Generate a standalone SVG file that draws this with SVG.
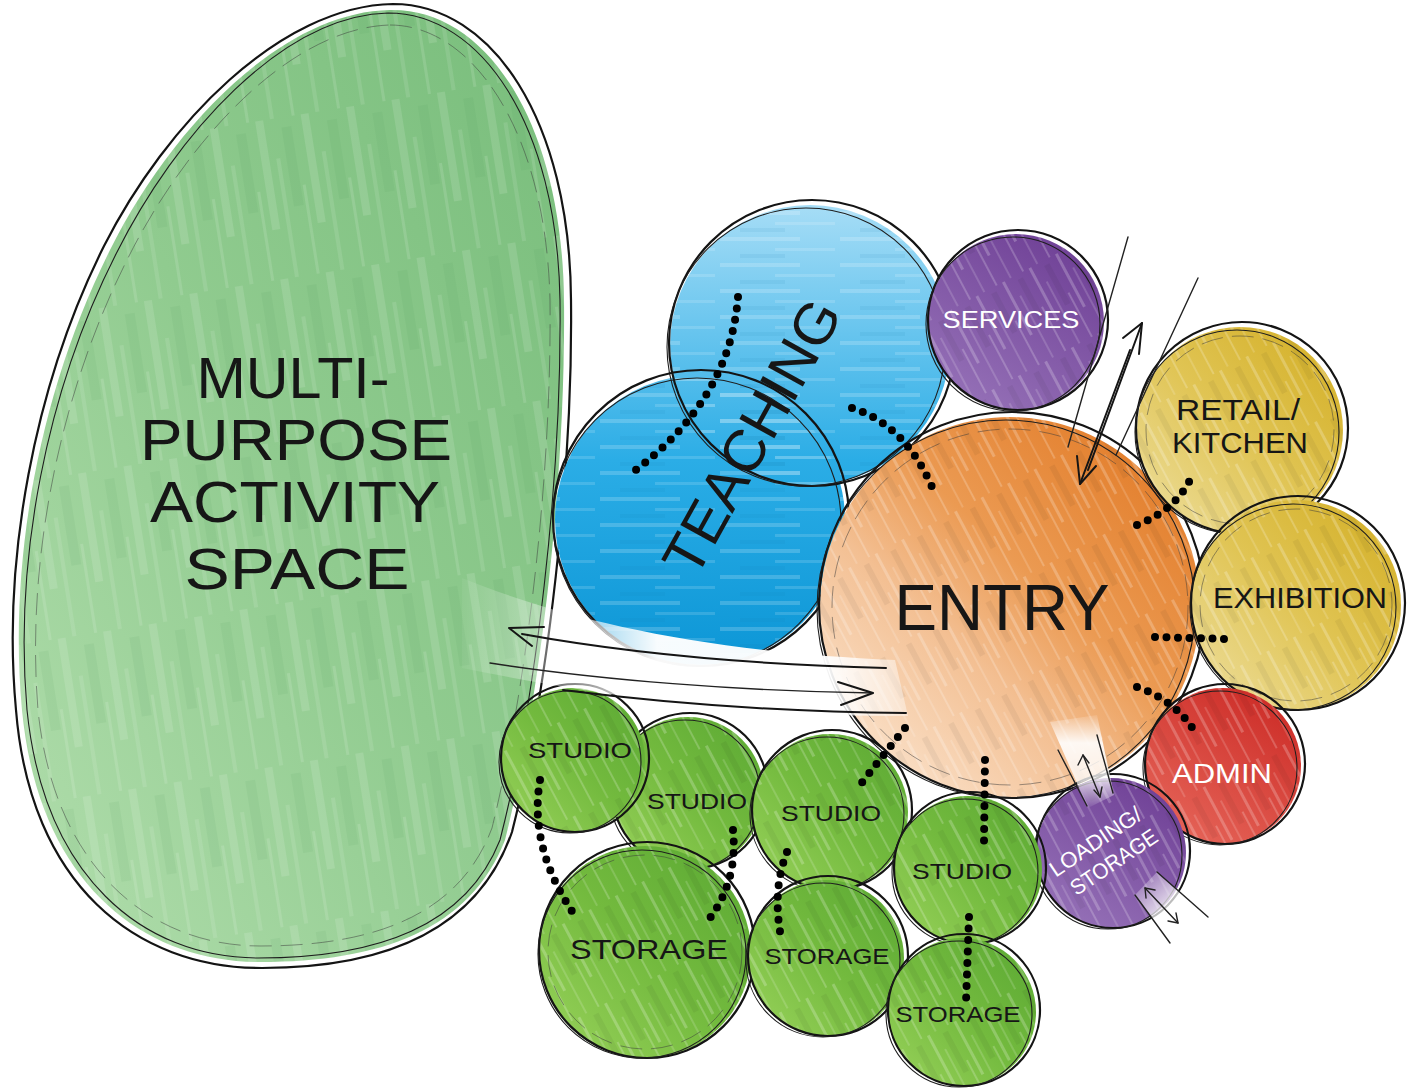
<svg xmlns="http://www.w3.org/2000/svg" width="1408" height="1091" viewBox="0 0 1408 1091">
<defs>
<style>
.o1{fill:none;stroke:#141414;stroke-width:2.2}
.o2{fill:none;stroke:#1e1e1e;stroke-width:1.1}
.o3{fill:none;stroke:#3a3a3a;stroke-width:1;stroke-dasharray:22 9;opacity:.5}
.t{font-family:"Liberation Sans",Arial,sans-serif;text-anchor:middle;fill:#161616}
.w{fill:#ffffff}
.dots{fill:none;stroke:#000;stroke-width:8;stroke-linecap:round;stroke-dasharray:0 11.5}
.ln{fill:none;stroke:#151515;stroke-width:2;stroke-linecap:round;stroke-linejoin:round}
.ln1{fill:none;stroke:#222;stroke-width:1.4;stroke-linecap:round;stroke-linejoin:round}
</style>
<linearGradient id="gBig" x1="1" y1="0" x2="0" y2="1">
<stop offset="0" stop-color="#78bd7b"/><stop offset="0.5" stop-color="#90cb8f"/><stop offset="1" stop-color="#b2dead"/>
</linearGradient>
<linearGradient id="gBlue" gradientUnits="userSpaceOnUse" x1="0" y1="205" x2="0" y2="668">
<stop offset="0" stop-color="#a6ddf6"/><stop offset="0.28" stop-color="#66c4ee"/><stop offset="0.55" stop-color="#2badE6"/><stop offset="1" stop-color="#0c96d6"/>
</linearGradient>
<linearGradient id="gOr" x1="0.85" y1="0.1" x2="0.15" y2="0.85">
<stop offset="0" stop-color="#e37f2d"/><stop offset="0.42" stop-color="#eb9a52"/><stop offset="0.68" stop-color="#f3bf92"/><stop offset="1" stop-color="#f9dcc1"/>
</linearGradient>
<linearGradient id="gPur" x1="0.8" y1="0" x2="0.2" y2="1">
<stop offset="0" stop-color="#6e3f95"/><stop offset="1" stop-color="#9672b8"/>
</linearGradient>
<linearGradient id="gYel" x1="1" y1="0" x2="0" y2="1">
<stop offset="0" stop-color="#d2ad22"/><stop offset="0.5" stop-color="#e0c453"/><stop offset="1" stop-color="#eee0a2"/>
</linearGradient>
<linearGradient id="gRed" x1="0.8" y1="0" x2="0.2" y2="1">
<stop offset="0" stop-color="#cc2b26"/><stop offset="1" stop-color="#e6665a"/>
</linearGradient>
<linearGradient id="gGrn" x1="1" y1="0" x2="0" y2="1">
<stop offset="0" stop-color="#5aa833"/><stop offset="0.5" stop-color="#73ba3e"/><stop offset="1" stop-color="#9ad35c"/>
</linearGradient>
<linearGradient id="gBand" gradientUnits="userSpaceOnUse" x1="450" y1="0" x2="910" y2="0">
<stop offset="0" stop-color="#fff" stop-opacity="0"/><stop offset="0.25" stop-color="#fff" stop-opacity="0.45"/><stop offset="0.45" stop-color="#fff" stop-opacity="0.97"/><stop offset="0.82" stop-color="#fff" stop-opacity="0.95"/><stop offset="1" stop-color="#fff" stop-opacity="0.35"/>
</linearGradient>
<linearGradient id="gLd1" x1="0" y1="0" x2="0" y2="1">
<stop offset="0" stop-color="#fff" stop-opacity="0.1"/><stop offset="0.3" stop-color="#fff" stop-opacity="0.9"/><stop offset="0.7" stop-color="#fff" stop-opacity="0.75"/><stop offset="1" stop-color="#fff" stop-opacity="0.05"/>
</linearGradient>
<linearGradient id="gLd2" x1="1" y1="1" x2="0" y2="0">
<stop offset="0" stop-color="#fff" stop-opacity="0.95"/><stop offset="0.6" stop-color="#fff" stop-opacity="0.7"/><stop offset="1" stop-color="#fff" stop-opacity="0.05"/>
</linearGradient>
<pattern id="stD" width="30" height="90" patternUnits="userSpaceOnUse" patternTransform="rotate(-28)">
<rect x="2" y="0" width="3" height="60" fill="#fff" opacity=".22"/>
<rect x="11" y="20" width="2" height="70" fill="#fff" opacity=".15"/>
<rect x="17" y="5" width="6" height="45" fill="#000" opacity=".05"/>
<rect x="25" y="40" width="2" height="50" fill="#fff" opacity=".2"/>
</pattern>
<pattern id="stV" width="46" height="160" patternUnits="userSpaceOnUse" patternTransform="rotate(-9)">
<rect x="3" y="0" width="8" height="110" fill="#fff" opacity=".12"/>
<rect x="18" y="40" width="4" height="120" fill="#fff" opacity=".1"/>
<rect x="28" y="10" width="10" height="80" fill="#3f8f45" opacity=".08"/>
<rect x="40" y="70" width="3" height="90" fill="#fff" opacity=".12"/>
</pattern>
<pattern id="stH" width="120" height="26" patternUnits="userSpaceOnUse">
<rect x="0" y="3" width="80" height="4" fill="#fff" opacity=".18"/>
<rect x="55" y="14" width="60" height="3" fill="#fff" opacity=".14"/>
<rect x="20" y="20" width="45" height="4" fill="#0a6fa8" opacity=".08"/>
</pattern>
</defs>

<rect width="1408" height="1091" fill="#ffffff"/>

<g id="multipurpose">
<path d="M390,10 C485,8 562,120 564,300 C566,480 540,700 505,840 C470,930 380,962 260,962 C140,962 38,880 22,710 C8,560 40,390 110,250 C170,130 280,12 390,10 Z" fill="url(#gBig)"/>
<path d="M390,10 C485,8 562,120 564,300 C566,480 540,700 505,840 C470,930 380,962 260,962 C140,962 38,880 22,710 C8,560 40,390 110,250 C170,130 280,12 390,10 Z" fill="url(#stV)"/>
<path class="o1" d="M393,4 C492,4 570,120 571,300 C573,470 548,690 512,832 C478,930 385,968 262,968 C135,968 30,884 16,710 C2,560 34,386 104,246 C166,124 280,6 393,4 Z"/>
<path class="o2" d="M388,13 C481,13 557,124 560,300 C562,480 536,700 500,840 C466,926 378,958 258,958 C142,958 44,876 27,710 C14,560 46,392 116,254 C176,134 282,16 388,13 Z"/>
<path class="o3" d="M390,25 C472,25 546,130 550,300 C552,480 526,690 492,828 C460,914 376,946 260,946 C150,946 54,868 38,710 C26,565 58,398 126,262 C184,144 288,28 390,25 Z"/>
<text class="t" x="293" y="398" font-size="57" textLength="193" lengthAdjust="spacingAndGlyphs">MULTI-</text>
<text class="t" x="296" y="460" font-size="57" textLength="312" lengthAdjust="spacingAndGlyphs">PURPOSE</text>
<text class="t" x="295" y="522" font-size="57" textLength="290" lengthAdjust="spacingAndGlyphs">ACTIVITY</text>
<text class="t" x="297" y="589" font-size="57" textLength="225" lengthAdjust="spacingAndGlyphs">SPACE</text>
</g>

<g id="teaching">
<circle cx="810" cy="345" r="140" fill="url(#gBlue)"/>
<circle cx="700" cy="520" r="145" fill="url(#gBlue)"/>
<circle cx="810" cy="345" r="140" fill="url(#stH)"/>
<circle cx="700" cy="520" r="145" fill="url(#stH)"/>
<circle cx="812" cy="343" r="143" class="o1"/>
<circle cx="806" cy="347" r="139" class="o2"/>
<circle cx="701" cy="518" r="148" class="o1"/>
<circle cx="697" cy="522" r="144" class="o2"/>
<text class="t" x="752" y="457" font-size="58" textLength="305" lengthAdjust="spacingAndGlyphs" transform="rotate(-61 752 437)">TEACHING</text>
</g>

<g id="entry">
<circle cx="1010" cy="607" r="190" fill="url(#gOr)"/>
<circle cx="1010" cy="607" r="190" fill="url(#stD)"/>
<circle cx="1012" cy="605" r="193" class="o1"/>
<circle cx="1006" cy="609" r="189" class="o2"/>
<circle cx="1010" cy="607" r="178" class="o3"/>
<text class="t" x="1002" y="630" font-size="64" textLength="215" lengthAdjust="spacingAndGlyphs">ENTRY</text>
</g>

<g id="services">
<circle cx="1016" cy="322" r="88" fill="url(#gPur)"/>
<circle cx="1016" cy="322" r="88" fill="url(#stD)"/>
<circle cx="1018" cy="320" r="90" class="o1"/>
<circle cx="1013" cy="324" r="87" class="o2"/>
<text class="t w" x="1011" y="328" font-size="23" textLength="137" lengthAdjust="spacingAndGlyphs">SERVICES</text>
</g>

<g id="retail">
<circle cx="1240" cy="430" r="103" fill="url(#gYel)"/>
<circle cx="1240" cy="430" r="103" fill="url(#stD)"/>
<circle cx="1242" cy="428" r="106" class="o1"/>
<circle cx="1237" cy="432" r="102" class="o2"/>
<circle cx="1240" cy="430" r="94" class="o3"/>
<text class="t" x="1238" y="420" font-size="29" textLength="124" lengthAdjust="spacingAndGlyphs">RETAIL/</text>
<text class="t" x="1240" y="453" font-size="29" textLength="136" lengthAdjust="spacingAndGlyphs">KITCHEN</text>
</g>

<g id="exhibition">
<circle cx="1296" cy="605" r="105" fill="url(#gYel)"/>
<circle cx="1296" cy="605" r="105" fill="url(#stD)"/>
<circle cx="1298" cy="603" r="107" class="o1"/>
<circle cx="1293" cy="607" r="103" class="o2"/>
<circle cx="1296" cy="605" r="96" class="o3"/>
<text class="t" x="1300" y="608" font-size="29" textLength="174" lengthAdjust="spacingAndGlyphs">EXHIBITION</text>
</g>

<g id="admin">
<circle cx="1223" cy="766" r="78" fill="url(#gRed)"/>
<circle cx="1223" cy="766" r="78" fill="url(#stD)"/>
<circle cx="1225" cy="764" r="80" class="o1"/>
<circle cx="1220" cy="768" r="77" class="o2"/>
<text class="t w" x="1222" y="783" font-size="28" textLength="100" lengthAdjust="spacingAndGlyphs">ADMIN</text>
</g>

<g id="loading">
<circle cx="1111" cy="853" r="75" fill="url(#gPur)"/>
<circle cx="1111" cy="853" r="75" fill="url(#stD)"/>
<circle cx="1113" cy="851" r="77" class="o1"/>
<circle cx="1108" cy="855" r="74" class="o2"/>
<g transform="translate(1103 853) rotate(-34)">
<text class="t w" x="0" y="-6" font-size="22" textLength="106" lengthAdjust="spacingAndGlyphs">LOADING/</text>
<text class="t w" x="4" y="21" font-size="22" textLength="100" lengthAdjust="spacingAndGlyphs">STORAGE</text>
</g>
</g>

<g id="studio2">
<circle cx="688" cy="793" r="76" fill="url(#gGrn)"/>
<circle cx="688" cy="793" r="76" fill="url(#stD)"/>
<circle cx="690" cy="791" r="78" class="o1"/>
<circle cx="685" cy="795" r="75" class="o2"/>
<text class="t" x="697" y="809" font-size="22" textLength="100" lengthAdjust="spacingAndGlyphs">STUDIO</text>
</g>

<g id="studio1">
<circle cx="573" cy="760" r="72" fill="url(#gGrn)"/>
<circle cx="573" cy="760" r="72" fill="url(#stD)"/>
<circle cx="575" cy="758" r="74" class="o1"/>
<circle cx="570" cy="762" r="71" class="o2"/>
<text class="t" x="580" y="758" font-size="22" textLength="104" lengthAdjust="spacingAndGlyphs">STUDIO</text>
</g>

<g id="storage1">
<circle cx="645" cy="952" r="106" fill="url(#gGrn)"/>
<circle cx="645" cy="952" r="106" fill="url(#stD)"/>
<circle cx="647" cy="950" r="108" class="o1"/>
<circle cx="642" cy="954" r="104" class="o2"/>
<circle cx="645" cy="952" r="97" class="o3"/>
<text class="t" x="649" y="959" font-size="28" textLength="158" lengthAdjust="spacingAndGlyphs">STORAGE</text>
</g>

<g id="studio3">
<circle cx="830" cy="812" r="78" fill="url(#gGrn)"/>
<circle cx="830" cy="812" r="78" fill="url(#stD)"/>
<circle cx="832" cy="810" r="80" class="o1"/>
<circle cx="827" cy="814" r="77" class="o2"/>
<text class="t" x="831" y="821" font-size="22" textLength="100" lengthAdjust="spacingAndGlyphs">STUDIO</text>
</g>

<g id="storage2">
<circle cx="826" cy="958" r="78" fill="url(#gGrn)"/>
<circle cx="826" cy="958" r="78" fill="url(#stD)"/>
<circle cx="828" cy="956" r="80" class="o1"/>
<circle cx="823" cy="960" r="77" class="o2"/>
<text class="t" x="827" y="964" font-size="22" textLength="125" lengthAdjust="spacingAndGlyphs">STORAGE</text>
</g>

<g id="studio4">
<circle cx="968" cy="870" r="74" fill="url(#gGrn)"/>
<circle cx="968" cy="870" r="74" fill="url(#stD)"/>
<circle cx="970" cy="868" r="76" class="o1"/>
<circle cx="965" cy="872" r="73" class="o2"/>
<text class="t" x="962" y="879" font-size="22" textLength="100" lengthAdjust="spacingAndGlyphs">STUDIO</text>
</g>

<g id="storage3">
<circle cx="962" cy="1012" r="74" fill="url(#gGrn)"/>
<circle cx="962" cy="1012" r="74" fill="url(#stD)"/>
<circle cx="964" cy="1010" r="76" class="o1"/>
<circle cx="959" cy="1014" r="73" class="o2"/>
<text class="t" x="958" y="1022" font-size="22" textLength="125" lengthAdjust="spacingAndGlyphs">STORAGE</text>
</g>

<g id="connectors">
<path d="M462,578 C560,618 700,652 895,660 L908,716 C780,716 640,704 462,668 Z" fill="url(#gBand)"/>
<path class="ln" d="M522,634 C610,650 730,664 886,668"/>
<path class="ln" d="M544,627 L509,628 L532,646"/>
<path class="ln1" d="M490,663 C600,680 740,691 873,693"/>
<path class="ln" d="M838,682 L873,693 L841,705"/>
<path class="ln" d="M563,690 C680,705 800,712 906,713"/>
<path class="ln1" d="M1128,237 L1068,447"/>
<path class="ln1" d="M1198,278 L1116,455"/>
<path class="ln" d="M1088,470 L1142,323"/>
<path class="ln" d="M1123,338 L1142,323 L1139,354"/>
<path class="ln" d="M1130,350 L1080,484"/>
<path class="ln" d="M1077,456 L1080,484 L1096,466"/>
<path d="M1050,722 L1097,715 L1114,795 L1088,808 Z" fill="url(#gLd1)"/>
<path class="ln1" d="M1058,750 L1087,806"/>
<path class="ln1" d="M1097,735 L1113,793"/>
<path class="ln1" d="M1083,755 L1100,797"/>
<path class="ln1" d="M1078,765 L1083,755 L1089,763"/>
<path class="ln1" d="M1094,790 L1100,797 L1102,787"/>
<path d="M1135,895 L1157,872 L1210,918 L1172,946 Z" fill="url(#gLd2)"/>
<path class="ln1" d="M1135,895 L1170,943"/>
<path class="ln1" d="M1157,872 L1208,917"/>
<path class="ln1" d="M1145,888 L1178,923"/>
<path class="ln1" d="M1146,898 L1145,888 L1155,890"/>
<path class="ln1" d="M1168,921 L1178,923 L1176,913"/>
<path class="dots" d="M738,297 Q730,400 633,472"/>
<path class="dots" d="M852,408 Q905,425 932,487"/>
<path class="dots" d="M1137,525 Q1175,510 1190,480"/>
<path class="dots" d="M1155,637 L1226,639"/>
<path class="dots" d="M1137,687 Q1175,700 1195,732"/>
<path class="dots" d="M905,728 L856,790"/>
<path class="dots" d="M985,760 L984,842"/>
<path class="dots" d="M540,780 Q528,850 578,920"/>
<path class="dots" d="M733,830 Q738,880 710,918"/>
<path class="dots" d="M787,852 Q772,890 781,937"/>
<path class="dots" d="M969,917 L966,1002"/>
</g>
</svg>
